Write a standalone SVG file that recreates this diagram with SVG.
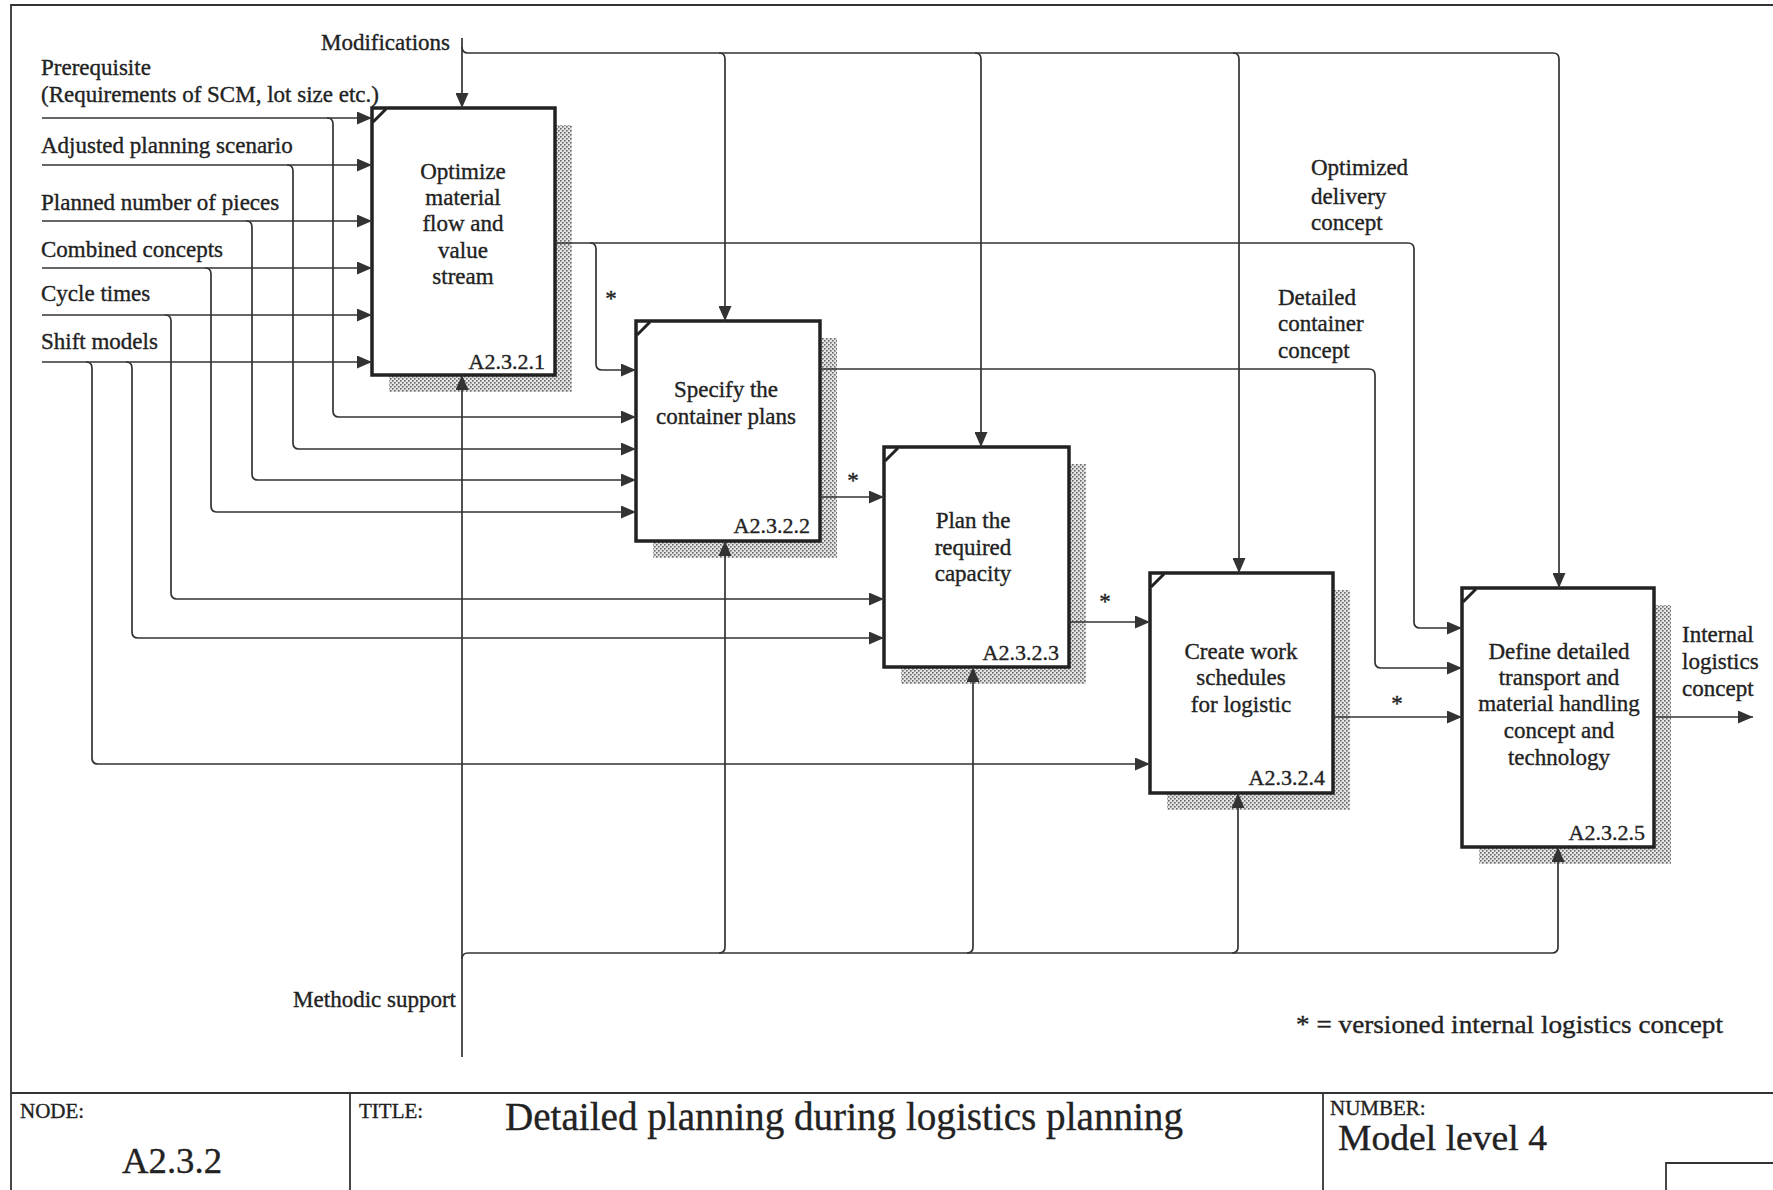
<svg xmlns="http://www.w3.org/2000/svg" width="1773" height="1190" viewBox="0 0 1773 1190">
<style>
.t{font-family:"Liberation Serif",serif;font-size:23px;fill:#222;stroke:#222;stroke-width:0.35}
.ctr{text-anchor:middle}
.end{text-anchor:end}
.id{font-size:22px}
.hd{font-size:21px}
.box{fill:#fff;stroke:#222;stroke-width:3.5}
.sh{fill:url(#hatch)}
.tick{stroke:#222;stroke-width:3;fill:none}
.c{fill:none;stroke:#333;stroke-width:1.7}
.a{marker-end:url(#ah)}
.fr{fill:none;stroke:#333;stroke-width:1.8}
</style>
<defs>
<pattern id="hatch" width="4" height="4" patternUnits="userSpaceOnUse">
<rect width="4" height="4" fill="#e4e4e4"/>
<rect width="1.6" height="1.6" fill="#666"/>
<rect x="2" y="2" width="1.6" height="1.6" fill="#666"/>
</pattern>
<marker id="ah" markerUnits="userSpaceOnUse" markerWidth="15" markerHeight="13" refX="15" refY="6.5" orient="auto">
<path d="M0,0 L15,6.5 L0,13 Z" fill="#333"/>
</marker>
</defs>
<rect width="1773" height="1190" fill="#fff"/>
<g id="frame">
<path class="fr" d="M11,1190 L11,5 L1773,5"/>
<path class="fr" d="M11,1093 L1773,1093"/>
<path class="fr" d="M350,1093 L350,1190 M1323,1093 L1323,1190 M1666,1190 L1666,1163 L1773,1163"/>
<text class="t hd" x="20" y="1118">NODE:</text>
<text class="t ctr" x="172" y="1173" style="font-size:36px" textLength="100" lengthAdjust="spacingAndGlyphs">A2.3.2</text>
<text class="t hd" x="359" y="1118">TITLE:</text>
<text class="t" x="505" y="1130" style="font-size:41px" textLength="678" lengthAdjust="spacingAndGlyphs">Detailed planning during logistics planning</text>
<text class="t hd" x="1330" y="1115">NUMBER:</text>
<text class="t" x="1338" y="1150" style="font-size:36px" textLength="209" lengthAdjust="spacingAndGlyphs">Model level 4</text>
</g>
<g id="A2.3.2.1">
<rect class="sh" x="389" y="125" width="183" height="267"/>
<rect class="box" x="372" y="108" width="183" height="267"/>
<path class="tick" d="M373,122 L386,109"/>
<text class="t ctr" x="463" y="179">Optimize</text>
<text class="t ctr" x="463" y="205">material</text>
<text class="t ctr" x="463" y="231">flow and</text>
<text class="t ctr" x="463" y="258">value</text>
<text class="t ctr" x="463" y="284">stream</text>
<text class="t end id" x="545" y="369">A2.3.2.1</text>
</g>
<g id="A2.3.2.2">
<rect class="sh" x="653" y="338" width="184" height="220"/>
<rect class="box" x="636" y="321" width="184" height="220"/>
<path class="tick" d="M637,335 L650,322"/>
<text class="t ctr" x="726" y="397">Specify the</text>
<text class="t ctr" x="726" y="424">container plans</text>
<text class="t end id" x="810" y="533">A2.3.2.2</text>
</g>
<g id="A2.3.2.3">
<rect class="sh" x="901" y="464" width="185" height="220"/>
<rect class="box" x="884" y="447" width="185" height="220"/>
<path class="tick" d="M885,461 L898,448"/>
<text class="t ctr" x="973" y="528">Plan the</text>
<text class="t ctr" x="973" y="555">required</text>
<text class="t ctr" x="973" y="581">capacity</text>
<text class="t end id" x="1059" y="660">A2.3.2.3</text>
</g>
<g id="A2.3.2.4">
<rect class="sh" x="1167" y="590" width="183" height="220"/>
<rect class="box" x="1150" y="573" width="183" height="220"/>
<path class="tick" d="M1151,587 L1164,574"/>
<text class="t ctr" x="1241" y="659">Create work</text>
<text class="t ctr" x="1241" y="685">schedules</text>
<text class="t ctr" x="1241" y="712">for logistic</text>
<text class="t end id" x="1325" y="785">A2.3.2.4</text>
</g>
<g id="A2.3.2.5">
<rect class="sh" x="1479" y="605" width="192" height="259"/>
<rect class="box" x="1462" y="588" width="192" height="259"/>
<path class="tick" d="M1463,602 L1476,589"/>
<text class="t ctr" x="1559" y="659">Define detailed</text>
<text class="t ctr" x="1559" y="685">transport and</text>
<text class="t ctr" x="1559" y="711">material handling</text>
<text class="t ctr" x="1559" y="738">concept and</text>
<text class="t ctr" x="1559" y="765">technology</text>
<text class="t end id" x="1645" y="840">A2.3.2.5</text>
</g>
<g id="connectors">
<path class="c a" d="M462,38 L462,108"/>
<path class="c a" d="M462,47 Q462,53 468,53 L1553,53 Q1559,53 1559,59 L1559,588"/>
<path class="c a" d="M719,53 Q725,53 725,59 L725,321"/>
<path class="c a" d="M975,53 Q981,53 981,59 L981,447"/>
<path class="c a" d="M1233,53 Q1239,53 1239,59 L1239,573"/>
<path class="c a" d="M555,243 L1408,243 Q1414,243 1414,249 L1414,622 Q1414,628 1420,628 L1462,628"/>
<path class="c a" d="M590,243 Q596,243 596,249 L596,364 Q596,370 602,370 L636,370"/>
<path class="c a" d="M820,369 L1369,369 Q1375,369 1375,375 L1375,662 Q1375,668 1381,668 L1462,668"/>
<path class="c a" d="M820,497 L884,497"/>
<path class="c a" d="M1069,622 L1150,622"/>
<path class="c a" d="M1333,717 L1462,717"/>
<path class="c a" d="M1654,717 L1753,717"/>
<path class="c a" d="M42,118 L372,118"/>
<path class="c a" d="M42,165 L372,165"/>
<path class="c a" d="M42,221 L372,221"/>
<path class="c a" d="M42,268 L372,268"/>
<path class="c a" d="M42,315 L372,315"/>
<path class="c a" d="M42,362 L372,362"/>
<path class="c a" d="M327,118 Q333,118 333,124 L333,411 Q333,417 339,417 L636,417"/>
<path class="c a" d="M287,165 Q293,165 293,171 L293,443 Q293,449 299,449 L636,449"/>
<path class="c a" d="M246,221 Q252,221 252,227 L252,474 Q252,480 258,480 L636,480"/>
<path class="c a" d="M205,268 Q211,268 211,274 L211,506 Q211,512 217,512 L636,512"/>
<path class="c a" d="M165,315 Q171,315 171,321 L171,593 Q171,599 177,599 L884,599"/>
<path class="c a" d="M126,362 Q132,362 132,368 L132,632 Q132,638 138,638 L884,638"/>
<path class="c a" d="M86,362 Q92,362 92,368 L92,758 Q92,764 98,764 L1150,764"/>
<path class="c a" d="M462,1057 L462,375"/>
<path class="c a" d="M462,959 Q462,953 468,953 L1552,953 Q1558,953 1558,947 L1558,847"/>
<path class="c a" d="M719,953 Q725,953 725,947 L725,541"/>
<path class="c a" d="M967,953 Q973,953 973,947 L973,667"/>
<path class="c a" d="M1232,953 Q1238,953 1238,947 L1238,793"/>
<text class="t end" x="450" y="50">Modifications</text>
<text class="t" x="41" y="75">Prerequisite</text>
<text class="t" x="41" y="102">(Requirements of SCM, lot size etc.)</text>
<text class="t" x="41" y="153">Adjusted planning scenario</text>
<text class="t" x="41" y="210">Planned number of pieces</text>
<text class="t" x="41" y="257">Combined concepts</text>
<text class="t" x="41" y="301">Cycle times</text>
<text class="t" x="41" y="349">Shift models</text>
<text class="t" x="1311" y="175">Optimized</text>
<text class="t" x="1311" y="204">delivery</text>
<text class="t" x="1311" y="230">concept</text>
<text class="t" x="1278" y="305">Detailed</text>
<text class="t" x="1278" y="331">container</text>
<text class="t" x="1278" y="358">concept</text>
<text class="t" x="1682" y="642">Internal</text>
<text class="t" x="1682" y="669">logistics</text>
<text class="t" x="1682" y="696">concept</text>
<text class="t ctr" x="611" y="306">*</text>
<text class="t ctr" x="853" y="488">*</text>
<text class="t ctr" x="1105" y="609">*</text>
<text class="t ctr" x="1397" y="711">*</text>
<text class="t end" x="456" y="1007">Methodic support</text>
<text class="t" x="1296" y="1033" style="font-size:26px" textLength="427" lengthAdjust="spacingAndGlyphs">* = versioned internal logistics concept</text>
</g>
</svg>
